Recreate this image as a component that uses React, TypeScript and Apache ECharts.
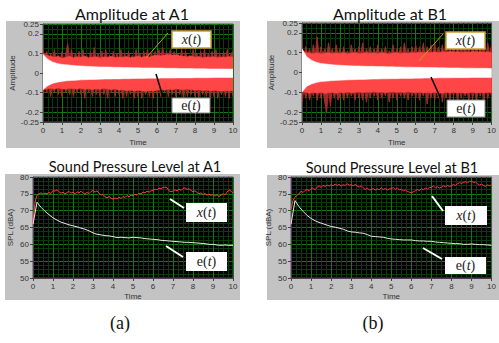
import React, { useEffect, useRef } from "react";
import * as echarts from "echarts";

// ---------- DATA ----------
const OUTER_STEP = 0.1;
const BAND_STEP = 0.2;
const E_STEP = 0.25;
const SPL_X_STEP = 0.1;
const SPL_E_STEP = 0.2;

const ampTicks = [-0.25, -0.2, -0.1, 0, 0.1, 0.2, 0.25];

// Amplitude at A1 — x(t) spikes (outer), x(t) dense band, e(t) band
const a1OuterUpper = [
  0.12, 0.07, 0.11, 0.06, 0.1, 0.07, 0.12, 0.06, 0.09, 0.07,
  0.11, 0.06, 0.1, 0.15, 0.07, 0.12, 0.06, 0.1, 0.07, 0.11,
  0.06, 0.12, 0.07, 0.09, 0.06, 0.11, 0.07, 0.13, 0.06, 0.1,
  0.07, 0.11, 0.06, 0.12, 0.07, 0.09, 0.06, 0.11, 0.07, 0.1,
  0.06, 0.12, 0.07, 0.1, 0.06, 0.11, 0.07, 0.09, 0.06, 0.12,
  0.07, 0.1, 0.06, 0.11, 0.07, 0.12, 0.06, 0.1, 0.07, 0.11,
  0.07, 0.12, 0.08, 0.13, 0.07, 0.11, 0.08, 0.12, 0.07, 0.11,
  0.06, 0.1, 0.07, 0.12, 0.06, 0.11, 0.07, 0.09, 0.06, 0.12,
  0.07, 0.1, 0.06, 0.11, 0.07, 0.12, 0.06, 0.1, 0.07, 0.11,
  0.06, 0.12, 0.07, 0.1, 0.06, 0.11, 0.07, 0.12, 0.06, 0.1, 0.11,
];
const a1OuterLower = [
  -0.11, -0.07, -0.1, -0.06, -0.12, -0.07, -0.1, -0.06, -0.11, -0.07,
  -0.12, -0.06, -0.1, -0.07, -0.11, -0.06, -0.12, -0.07, -0.1, -0.06,
  -0.11, -0.07, -0.13, -0.06, -0.1, -0.07, -0.12, -0.06, -0.11, -0.07,
  -0.12, -0.06, -0.11, -0.07, -0.13, -0.06, -0.1, -0.07, -0.12, -0.06,
  -0.11, -0.07, -0.13, -0.06, -0.12, -0.07, -0.11, -0.06, -0.13, -0.07,
  -0.12, -0.06, -0.13, -0.07, -0.11, -0.06, -0.12, -0.07, -0.13, -0.06,
  -0.11, -0.07, -0.12, -0.06, -0.1, -0.07, -0.12, -0.06, -0.11, -0.07,
  -0.12, -0.06, -0.11, -0.07, -0.13, -0.06, -0.12, -0.07, -0.11, -0.06,
  -0.12, -0.07, -0.13, -0.06, -0.11, -0.07, -0.12, -0.06, -0.13, -0.07,
  -0.12, -0.06, -0.13, -0.07, -0.11, -0.06, -0.12, -0.07, -0.13, -0.06, -0.12,
];
const a1BandUpper = [
  0.1, 0.09, 0.085, 0.08, 0.085, 0.075, 0.08, 0.085, 0.078, 0.082,
  0.08, 0.085, 0.078, 0.08, 0.083, 0.077, 0.082, 0.08, 0.085, 0.078,
  0.082, 0.08, 0.084, 0.078, 0.082, 0.085, 0.08, 0.086, 0.082, 0.088,
  0.09, 0.087, 0.092, 0.095, 0.09, 0.093, 0.088, 0.085, 0.083, 0.087,
  0.08, 0.084, 0.078, 0.082, 0.08, 0.083, 0.078, 0.082, 0.08, 0.084, 0.08,
];
const a1BandLower = [
  -0.085, -0.08, -0.078, -0.082, -0.076, -0.08, -0.083, -0.078, -0.08, -0.082,
  -0.078, -0.083, -0.08, -0.085, -0.08, -0.083, -0.078, -0.082, -0.085, -0.08,
  -0.088, -0.085, -0.09, -0.087, -0.092, -0.088, -0.09, -0.094, -0.09, -0.092,
  -0.088, -0.085, -0.087, -0.083, -0.085, -0.08, -0.083, -0.085, -0.082, -0.086,
  -0.088, -0.085, -0.09, -0.087, -0.092, -0.088, -0.09, -0.093, -0.09, -0.092, -0.09,
];
const a1EUpper = [
  0.095, 0.07, 0.056, 0.049, 0.044, 0.042, 0.039, 0.037, 0.036, 0.034,
  0.033, 0.032, 0.031, 0.031, 0.03, 0.029, 0.029, 0.028, 0.028, 0.027,
  0.027, 0.026, 0.026, 0.026, 0.025, 0.025, 0.024, 0.024, 0.024, 0.023,
  0.023, 0.023, 0.022, 0.022, 0.022, 0.021, 0.021, 0.021, 0.021, 0.02, 0.02,
];
const a1ELower = [
  -0.085, -0.065, -0.053, -0.047, -0.043, -0.04, -0.038, -0.037, -0.035, -0.034,
  -0.033, -0.033, -0.032, -0.031, -0.031, -0.03, -0.03, -0.029, -0.029, -0.028,
  -0.028, -0.028, -0.027, -0.027, -0.027, -0.026, -0.026, -0.026, -0.025, -0.025,
  -0.025, -0.025, -0.024, -0.024, -0.024, -0.024, -0.023, -0.023, -0.023, -0.023, -0.023,
];

// Amplitude at B1
const b1OuterUpper = [
  0.14, 0.08, 0.13, 0.09, 0.12, 0.08, 0.14, 0.09, 0.18, 0.08,
  0.13, 0.09, 0.12, 0.08, 0.15, 0.09, 0.12, 0.08, 0.14, 0.09,
  0.12, 0.08, 0.13, 0.09, 0.11, 0.08, 0.14, 0.09, 0.12, 0.08,
  0.13, 0.09, 0.15, 0.08, 0.12, 0.09, 0.13, 0.08, 0.12, 0.09,
  0.14, 0.08, 0.12, 0.09, 0.13, 0.08, 0.11, 0.09, 0.14, 0.08,
  0.12, 0.09, 0.13, 0.08, 0.15, 0.09, 0.12, 0.08, 0.13, 0.09,
  0.14, 0.08, 0.13, 0.09, 0.15, 0.08, 0.13, 0.09, 0.14, 0.08,
  0.15, 0.09, 0.13, 0.08, 0.14, 0.09, 0.16, 0.08, 0.13, 0.09,
  0.14, 0.08, 0.13, 0.09, 0.15, 0.08, 0.14, 0.09, 0.13, 0.08,
  0.14, 0.09, 0.15, 0.08, 0.13, 0.09, 0.14, 0.08, 0.15, 0.09, 0.14,
];
const b1OuterLower = [
  -0.15, -0.09, -0.13, -0.08, -0.14, -0.09, -0.12, -0.08, -0.14, -0.09,
  -0.13, -0.08, -0.15, -0.2, -0.09, -0.17, -0.08, -0.13, -0.09, -0.14,
  -0.12, -0.08, -0.14, -0.09, -0.13, -0.08, -0.12, -0.09, -0.14, -0.08,
  -0.13, -0.09, -0.14, -0.08, -0.15, -0.09, -0.13, -0.08, -0.12, -0.09,
  -0.14, -0.08, -0.13, -0.09, -0.12, -0.08, -0.15, -0.09, -0.13, -0.08,
  -0.14, -0.09, -0.12, -0.08, -0.13, -0.09, -0.14, -0.08, -0.12, -0.09,
  -0.13, -0.08, -0.14, -0.09, -0.12, -0.08, -0.16, -0.09, -0.13, -0.08,
  -0.14, -0.09, -0.13, -0.08, -0.15, -0.09, -0.13, -0.08, -0.14, -0.09,
  -0.12, -0.08, -0.14, -0.09, -0.13, -0.08, -0.12, -0.09, -0.14, -0.08,
  -0.13, -0.09, -0.14, -0.08, -0.12, -0.09, -0.14, -0.08, -0.13, -0.09, -0.12,
];
const b1BandUpper = [
  0.11, 0.1, 0.098, 0.095, 0.1, 0.094, 0.097, 0.1, 0.095, 0.098,
  0.096, 0.1, 0.094, 0.098, 0.1, 0.095, 0.097, 0.1, 0.096, 0.099,
  0.095, 0.1, 0.097, 0.094, 0.098, 0.1, 0.096, 0.099, 0.097, 0.1,
  0.098, 0.102, 0.099, 0.103, 0.1, 0.104, 0.1, 0.105, 0.102, 0.106,
  0.103, 0.105, 0.101, 0.104, 0.102, 0.106, 0.103, 0.105, 0.102, 0.104, 0.1,
];
const b1BandLower = [
  -0.095, -0.1, -0.105, -0.1, -0.104, -0.1, -0.106, -0.102, -0.1, -0.105,
  -0.1, -0.103, -0.098, -0.102, -0.1, -0.097, -0.101, -0.098, -0.1, -0.096,
  -0.1, -0.098, -0.102, -0.099, -0.097, -0.1, -0.098, -0.101, -0.097, -0.1,
  -0.102, -0.099, -0.103, -0.1, -0.104, -0.1, -0.102, -0.105, -0.1, -0.103,
  -0.1, -0.104, -0.101, -0.105, -0.102, -0.1, -0.104, -0.101, -0.103, -0.1, -0.102,
];
const b1EUpper = [
  0.12, 0.08, 0.062, 0.052, 0.046, 0.043, 0.04, 0.038, 0.037, 0.035,
  0.034, 0.033, 0.033, 0.032, 0.031, 0.031, 0.03, 0.03, 0.029, 0.029,
  0.028, 0.028, 0.027, 0.027, 0.026, 0.026, 0.025, 0.025, 0.025, 0.024,
  0.024, 0.023, 0.023, 0.023, 0.022, 0.022, 0.022, 0.021, 0.021, 0.021, 0.02,
];
const b1ELower = [
  -0.1, -0.07, -0.058, -0.051, -0.046, -0.044, -0.042, -0.04, -0.039, -0.038,
  -0.037, -0.036, -0.035, -0.035, -0.034, -0.033, -0.033, -0.032, -0.032, -0.031,
  -0.031, -0.03, -0.03, -0.03, -0.029, -0.029, -0.028, -0.028, -0.028, -0.027,
  -0.027, -0.027, -0.026, -0.026, -0.026, -0.026, -0.025, -0.025, -0.025, -0.025, -0.025,
];

// Sound Pressure Level (dBA)
const splA1X = [
  66, 72.5, 74.6, 75.0, 75.3, 74.9, 75.2, 75.0, 75.4, 75.1,
  76.0, 75.8, 76.2, 75.6, 75.2, 75.5, 75.0, 75.4, 75.7, 75.2,
  75.5, 75.0, 75.6, 75.3, 75.8, 75.2, 74.9, 75.4, 75.1, 75.7,
  76.0, 75.5, 75.9, 75.2, 74.6, 74.9, 74.1, 73.8, 74.2, 73.7,
  73.4, 73.8, 73.5, 74.0, 73.6, 74.2, 73.9, 74.5, 74.1, 74.6,
  74.4, 74.9, 74.6, 75.2, 75.0, 75.5, 75.3, 75.8, 75.5, 75.9,
  76.0, 76.4, 76.2, 76.7, 76.5, 76.9, 77.0, 76.8, 75.9, 75.6,
  75.8, 76.2, 75.9, 76.4, 76.0, 76.6, 76.8, 76.3, 76.5, 76.0,
  75.6, 75.9, 75.4, 75.0, 75.3, 74.8, 75.1, 74.6, 74.9, 74.5,
  74.8, 74.3, 74.7, 74.2, 74.6, 75.0, 74.7, 75.5, 76.2, 75.8, 75.2,
];
const splA1E = [
  66, 72.5, 71, 69.8, 68.8, 67.9, 67.2, 66.6, 66.2, 65.8,
  65.5, 65.2, 64.8, 64.5, 64.0, 63.4, 63.0, 62.8, 62.6, 62.5,
  62.3, 62.0, 62.1, 62.0, 61.9, 62.1, 62.0, 61.9, 61.7, 61.6,
  61.5, 61.4, 61.2, 61.1, 61.0, 60.9, 60.8, 60.7, 60.6, 60.6,
  60.5, 60.4, 60.3, 60.2, 60.0, 60.0, 59.8, 59.7, 59.8, 59.7, 59.7,
];
const splB1X = [
  70.5, 73.0, 74.0, 74.6, 75.0, 75.8, 75.4, 76.0, 76.3, 75.9,
  76.5, 76.8, 76.2, 77.0, 77.4, 76.9, 77.5, 77.2, 77.6, 77.3,
  77.7, 77.4, 77.9, 77.5, 77.8, 77.3, 77.7, 77.5, 78.0, 77.6,
  77.7, 77.4, 77.8, 77.3, 77.0, 77.4, 76.8, 76.3, 76.7, 76.2,
  76.2, 76.6, 76.1, 76.5, 76.2, 76.8, 76.3, 76.6, 76.1, 76.5,
  76.5, 76.9, 76.3, 76.7, 76.2, 76.4, 75.9, 76.2, 75.7, 75.5,
  75.3, 75.6, 75.9, 76.3, 76.0, 76.5, 76.2, 76.7, 76.4, 76.9,
  76.9, 77.3, 76.8, 77.1, 76.7, 77.0, 77.4, 77.1, 77.5, 77.2,
  77.4, 77.8, 77.5, 78.0, 78.3, 78.1, 78.4, 78.6, 78.3, 78.7,
  78.7, 78.4, 78.5, 78.0, 77.6, 77.9, 77.5, 77.2, 77.7, 77.4, 77.7,
];
const splB1E = [
  66, 73.0, 71.2, 69.8, 68.6, 67.7, 67.0, 66.5, 66.1, 65.7,
  65.3, 65.1, 64.8, 64.5, 64.0, 63.7, 63.6, 63.4, 63.3, 62.9,
  62.4, 62.3, 62.2, 62.1, 61.8, 61.6, 61.5, 61.4, 61.3, 61.3,
  61.3, 61.1, 61.0, 61.0, 60.9, 60.9, 60.7, 60.6, 60.5, 60.4,
  60.3, 60.2, 60.2, 60.0, 60.0, 60.1, 60.0, 59.9, 59.9, 59.8, 59.7,
];

const titles = ["Amplitude at A1", "Amplitude at B1", "Sound Pressure Level at A1", "Sound Pressure Level at B1"];
const captions = ["(a)", "(b)"];

// ---------- STYLE ----------
const GRID_MAJOR = "#137a13";
const GRID_MINOR = "#0b3b0b";
const PANEL = "#c3c3c3";
const LABEL = "#333";
const SANS = "Liberation Sans, Arial, sans-serif";
const TITLE_FONT = "Lato, Open Sans, sans-serif";
const DARK_RED = "#a82a2a";
const RED = "#ff4646";

const pairs = (vals: number[], step: number) => vals.map((v, i) => [Math.round(i * step * 1000) / 1000, v]);

const grids = [
  { left: 43, top: 24, width: 190, height: 98 },
  { left: 302, top: 23, width: 192, height: 99 },
  { left: 33, top: 177, width: 200, height: 101 },
  { left: 291, top: 177, width: 204, height: 101 },
];

function xAxis(gridIndex: number, nameGap: number) {
  return {
    gridIndex,
    type: "value",
    min: 0,
    max: 10,
    interval: 1,
    name: "Time",
    nameLocation: "middle",
    nameGap,
    nameTextStyle: { fontSize: 8, color: LABEL, fontFamily: SANS },
    axisLine: { show: true, onZero: false, lineStyle: { color: "#444" } },
    axisTick: { show: true, length: 3, lineStyle: { color: "#444" } },
    axisLabel: { fontSize: 8, color: LABEL, margin: 4, fontFamily: SANS },
    splitLine: { show: true, lineStyle: { color: GRID_MAJOR, width: 1 } },
    minorTick: { show: false, splitNumber: 4 },
    minorSplitLine: { show: true, lineStyle: { color: GRID_MINOR, width: 1 } },
  };
}

function ampY(gridIndex: number) {
  return {
    gridIndex,
    type: "value",
    min: -0.25,
    max: 0.25,
    interval: 0.05,
    name: "Amplitude",
    nameLocation: "middle",
    nameGap: 27,
    nameTextStyle: { fontSize: 8, color: LABEL, fontFamily: SANS },
    axisLine: { show: true, onZero: false, lineStyle: { color: "#444" } },
    axisTick: { show: true, length: 3, customValues: ampTicks, lineStyle: { color: "#444" } },
    axisLabel: { fontSize: 8, color: LABEL, margin: 4, fontFamily: SANS, customValues: ampTicks },
    splitLine: { show: true, lineStyle: { color: GRID_MAJOR, width: 1 } },
    minorTick: { show: false, splitNumber: 2 },
    minorSplitLine: { show: true, lineStyle: { color: GRID_MINOR, width: 1 } },
  };
}

function splY(gridIndex: number) {
  return {
    gridIndex,
    type: "value",
    min: 50,
    max: 80,
    interval: 5,
    name: "SPL (dBA)",
    nameLocation: "middle",
    nameGap: 19,
    nameTextStyle: { fontSize: 8, color: LABEL, fontFamily: SANS },
    axisLine: { show: true, onZero: false, lineStyle: { color: "#444" } },
    axisTick: { show: true, length: 3, lineStyle: { color: "#444" } },
    axisLabel: { fontSize: 8, color: LABEL, margin: 4, fontFamily: SANS },
    splitLine: { show: true, lineStyle: { color: GRID_MAJOR, width: 1 } },
    minorTick: { show: false, splitNumber: 4 },
    minorSplitLine: { show: true, lineStyle: { color: GRID_MINOR, width: 1 } },
  };
}

// One filled polygon between lower[] and upper[], positioned through the axis scales (api.coord)
function band(idx: number, lower: number[], upper: number[], step: number, color: string, lw: number) {
  const data = upper.map((u, i) => [Math.round(i * step * 1000) / 1000, lower[i], u]);
  return {
    type: "custom",
    coordinateSystem: "cartesian2d",
    xAxisIndex: idx,
    yAxisIndex: idx,
    data,
    encode: { x: 0, y: [1, 2] },
    silent: true,
    clip: true,
    renderItem: (params: any, api: any) => {
      if (params.dataIndex !== 0) return null;
      const pts: number[][] = [];
      for (let i = 0; i < data.length; i++) pts.push(api.coord([data[i][0], data[i][2]]));
      for (let i = data.length - 1; i >= 0; i--) pts.push(api.coord([data[i][0], data[i][1]]));
      return {
        type: "polygon",
        shape: { points: pts },
        style: { fill: color, stroke: color, lineWidth: lw, lineJoin: "miter" },
      };
    },
  };
}

function line(idx: number, vals: number[], step: number, color: string) {
  return {
    type: "line",
    xAxisIndex: idx,
    yAxisIndex: idx,
    data: pairs(vals, step),
    showSymbol: false,
    symbol: "none",
    silent: true,
    lineStyle: { width: 1, color },
  };
}

function mathLabel(kind: "x" | "e", cx: number, cy: number) {
  return {
    type: "text",
    x: cx,
    y: cy,
    style: {
      text: kind === "x" ? "{i|x}{u|(}{i|t}{u|)}" : "{u|e(}{i|t}{u|)}",
      align: "center",
      verticalAlign: "middle",
      rich: {
        i: { fontFamily: "Liberation Serif, serif", fontStyle: "italic", fontSize: 14, fill: "#222" },
        u: { fontFamily: "Liberation Serif, serif", fontSize: 14, fill: "#222" },
      },
    },
    z: 110,
  };
}

function box(x: number, y: number, w: number, h: number, stroke: string, lw: number) {
  return {
    type: "rect",
    shape: { x, y, width: w, height: h },
    style: { fill: "#fff", stroke, lineWidth: lw },
    z: 105,
  };
}

function pointer(x1: number, y1: number, x2: number, y2: number, color: string, w: number) {
  return {
    type: "line",
    shape: { x1, y1, x2, y2 },
    style: { stroke: color, lineWidth: w },
    z: 105,
  };
}

export default function App() {
  const ref = useRef<HTMLDivElement>(null);
  useEffect(() => {
    if (!ref.current) return;
    const chart = echarts.init(ref.current, undefined, { renderer: "svg" });
    const panels = [
      [6, 21, 234, 127],
      [267, 21, 232, 127],
      [5, 174, 235, 126],
      [267, 175, 232, 125],
    ].map(([x, y, w, h]) => ({
      type: "rect",
      shape: { x, y, width: w, height: h },
      style: { fill: PANEL },
      z: -10,
    }));
    const titlePos = [
      [132, 13, 16],
      [390, 13, 16],
      [135, 166, 14.5],
      [392, 167, 14.5],
    ];
    const option = {
      animation: false,
      backgroundColor: "#fff",
      grid: grids.map((g) => ({
        ...g,
        show: true,
        backgroundColor: "#000",
        borderColor: "#555",
        borderWidth: 1,
        containLabel: false,
      })),
      xAxis: [xAxis(0, 16), xAxis(1, 16), xAxis(2, 14), xAxis(3, 14)],
      yAxis: [ampY(0), ampY(1), splY(2), splY(3)],
      series: [
        band(0, a1OuterLower, a1OuterUpper, OUTER_STEP, DARK_RED, 0.9),
        band(0, a1BandLower, a1BandUpper, BAND_STEP, RED, 0.5),
        band(0, a1ELower, a1EUpper, E_STEP, "#ffffff", 0.5),
        band(1, b1OuterLower, b1OuterUpper, OUTER_STEP, DARK_RED, 0.9),
        band(1, b1BandLower, b1BandUpper, BAND_STEP, RED, 0.5),
        band(1, b1ELower, b1EUpper, E_STEP, "#ffffff", 0.5),
        line(2, splA1X, SPL_X_STEP, "#ff3a3a"),
        line(2, splA1E, SPL_E_STEP, "#e6e6e6"),
        line(3, splB1X, SPL_X_STEP, "#ff3a3a"),
        line(3, splB1E, SPL_E_STEP, "#e6e6e6"),
      ],
      graphic: [
        ...panels,
        ...titles.map((t, i) => ({
          type: "text",
          x: titlePos[i][0],
          y: titlePos[i][1],
          style: {
            text: t,
            align: "center",
            verticalAlign: "middle",
            fontFamily: TITLE_FONT,
            fontSize: titlePos[i][2],
            fill: "#111",
          },
        })),
        ...captions.map((c, i) => ({
          type: "text",
          x: i === 0 ? 120 : 373,
          y: 323,
          style: {
            text: c,
            align: "center",
            verticalAlign: "middle",
            fontFamily: "Liberation Serif, serif",
            fontSize: 18,
            fill: "#111",
          },
        })),
        // top-left annotations
        pointer(168, 33, 146, 58, "#b8a020", 1),
        pointer(163, 97, 156, 74, "#000", 1.5),
        box(172, 31, 39, 17, "#c8a032", 1.5),
        mathLabel("x", 191.5, 39.5),
        box(172, 98, 38, 15, "#888", 1),
        mathLabel("e", 191, 105.5),
        // top-right annotations
        pointer(443, 34, 419, 61, "#b8a020", 1),
        pointer(441, 99, 431, 77, "#000", 1.5),
        box(446, 32, 39, 17, "#c8a032", 1.5),
        mathLabel("x", 465.5, 40.5),
        box(447, 100, 38, 17, "#888", 1),
        mathLabel("e", 466, 108.5),
        // bottom-left annotations
        pointer(170, 199, 184, 208, "#fff", 2),
        pointer(166, 246, 183, 257, "#fff", 2),
        box(186, 203, 41, 19, "#fff", 0),
        mathLabel("x", 206.5, 212.5),
        box(186, 252, 41, 19, "#fff", 0),
        mathLabel("e", 206.5, 261.5),
        // bottom-right annotations
        pointer(432, 196, 443, 211, "#fff", 2),
        pointer(423, 248, 442, 259, "#fff", 2),
        box(445, 206, 42, 19, "#fff", 0),
        mathLabel("x", 466, 215.5),
        box(445, 257, 41, 17, "#fff", 0),
        mathLabel("e", 465.5, 265.5),
      ],
    };
    chart.setOption(option as any);
    return () => chart.dispose();
  }, []);
  return (
    <div
      ref={ref}
      style={{ position: "absolute", left: 0, top: 0, width: 499, height: 343 }}
    />
  );
}
